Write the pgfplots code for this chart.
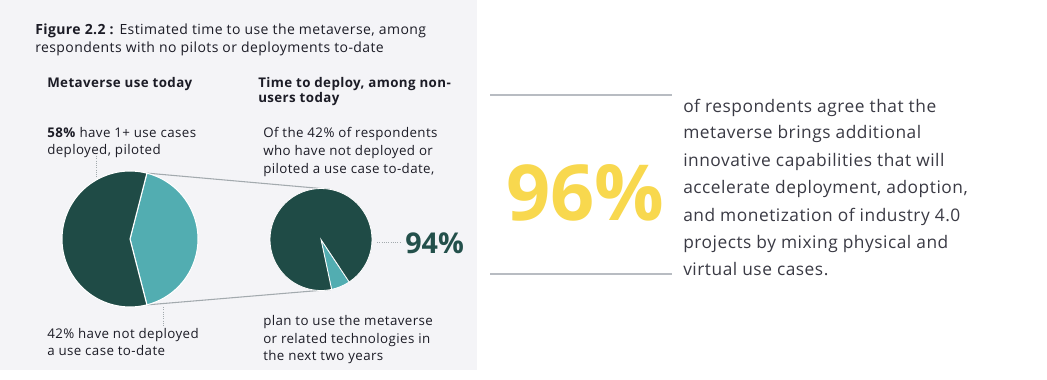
\documentclass[border=0pt]{standalone}
\usepackage{pgfplots}
\pgfplotsset{compat=1.18}
\usepackage{fontspec}
\setmainfont{Open Sans}[LetterSpace=3]
\newfontfamily\bignum{Open Sans}
\definecolor{panel}{HTML}{F4F4F7}
\definecolor{darkg}{HTML}{1F4B46}
\definecolor{tealc}{HTML}{52ADB1}
\definecolor{txt}{HTML}{1C1C26}
\definecolor{rtxt}{HTML}{3A3A44}
\definecolor{rulec}{HTML}{B8BCC2}
\definecolor{linec}{HTML}{A3AAAE}
\definecolor{yel}{HTML}{F8D84E}
\definecolor{pct}{HTML}{23504B}
% data: shares in percent
\def\leftA{58}\def\leftB{42}
\def\rightA{94}\def\rightB{6}
\tikzset{lab/.style={anchor=base west, inner sep=0, font=\fontsize{10}{12}\selectfont, text=txt},
  rt/.style={anchor=base west, inner sep=0, font=\fontsize{13}{15}\selectfont, text=rtxt}}
\begin{document}
\begin{tikzpicture}
\begin{axis}[
  scale only axis, width=785.25pt, height=284.25pt,
  xmin=0, xmax=1047, ymin=0, ymax=379, y dir=reverse,
  hide axis, clip=false]
\fill[white] (axis cs:0,0) rectangle (axis cs:1047,379);
\fill[panel] (axis cs:0,0) rectangle (axis cs:477,370);
% title
\node[anchor=base west, inner sep=0, font=\fontsize{10.5}{12}\selectfont, text=txt] at (axis cs:35,34) {\textbf{Figure 2.2 :} Estimated time to use the metaverse, among};
\node[anchor=base west, inner sep=0, font=\fontsize{10.5}{12}\selectfont, text=txt] at (axis cs:35,52) {respondents with no pilots or deployments to-date};
% headings
\node[lab, font=\fontsize{10}{12}\selectfont\bfseries] at (axis cs:47,87) {Metaverse use today};
\node[lab, font=\fontsize{10}{12}\selectfont\bfseries] at (axis cs:258,87) {Time to deploy, among non-};
\node[lab, font=\fontsize{10}{12}\selectfont\bfseries] at (axis cs:258,102) {users today};
% labels
\node[lab] at (axis cs:47,137) {\textbf{58\%} have 1+ use cases};
\node[lab] at (axis cs:47,154) {deployed, piloted};
\node[lab] at (axis cs:47,338) {42\% have not deployed};
\node[lab] at (axis cs:47,355) {a use case to-date};
\node[lab] at (axis cs:263,137) {Of the 42\% of respondents};
\node[lab] at (axis cs:263,155) {who have not deployed or};
\node[lab] at (axis cs:263,173) {piloted a use case to-date,};
\node[lab] at (axis cs:263,325) {plan to use the metaverse};
\node[lab] at (axis cs:263,343) {or related technologies in};
\node[lab] at (axis cs:263,360) {the next two years};
% connectors
\draw[linec, line width=0.8pt] (axis cs:146.9,173.1) -- (axis cs:329.9,189.3);
\draw[linec, line width=0.8pt] (axis cs:146.9,304.9) -- (axis cs:331.6,289.4);
% left pie
\pgfmathsetmacro{\la}{\leftB*3.6/2}
\pgfmathsetmacro{\lb}{360-\la}
\fill[tealc, draw=white, line width=0.8pt] (axis cs:130,239) -- ++(\la:51pt) arc[start angle=\la, end angle=-\la, radius=51pt] -- cycle;
\fill[darkg, draw=white, line width=0.8pt] (axis cs:130,239) -- ++(\la:51pt) arc[start angle=\la, end angle=\lb, radius=51pt] -- cycle;
% right pie
\pgfmathsetmacro{\rs}{-78}
\pgfmathsetmacro{\re}{-78+\rightB*3.6}
\pgfmathsetmacro{\rf}{\re+\rightA*3.6}
\fill[tealc, draw=white, line width=0.6pt] (axis cs:321,239.5) -- ++(\rs:38.25pt) arc[start angle=\rs, end angle=\re, radius=38.25pt] -- cycle;
\fill[darkg, draw=white, line width=0.6pt] (axis cs:321,239.5) -- ++(\re:38.25pt) arc[start angle=\re, end angle=\rf, radius=38.25pt] -- cycle;
% dotted leaders
\draw[linec, densely dotted, line width=0.7pt] (axis cs:96,156) -- (axis cs:96,177);
\draw[linec, densely dotted, line width=0.7pt] (axis cs:163,307) -- (axis cs:163,327);
\draw[linec, densely dotted, line width=0.7pt] (axis cs:377,242) -- (axis cs:401,242);
\node[anchor=base west, inner sep=0, font=\bignum\fontsize{21.5}{24}\selectfont\bfseries, text=pct] at (axis cs:405,253) {94\%};
% right panel
\draw[rulec, line width=1.5pt] (axis cs:490,95) -- (axis cs:672,95);
\draw[rulec, line width=1.5pt] (axis cs:490,274) -- (axis cs:672,274);
\node[anchor=base west, inner sep=0, font=\bignum\fontsize{58}{64}\selectfont\bfseries, text=yel] at (axis cs:506,220) {96\%};
\node[rt] at (axis cs:683,112) {of respondents agree that the};
\node[rt] at (axis cs:683,138) {metaverse brings additional};
\node[rt] at (axis cs:683,166) {innovative capabilities that will};
\node[rt] at (axis cs:683,193) {accelerate deployment, adoption,};
\node[rt] at (axis cs:683,221) {and monetization of industry 4.0};
\node[rt] at (axis cs:683,248) {projects by mixing physical and};
\node[rt] at (axis cs:683,275) {virtual use cases.};
\end{axis}
\end{tikzpicture}
\end{document}
